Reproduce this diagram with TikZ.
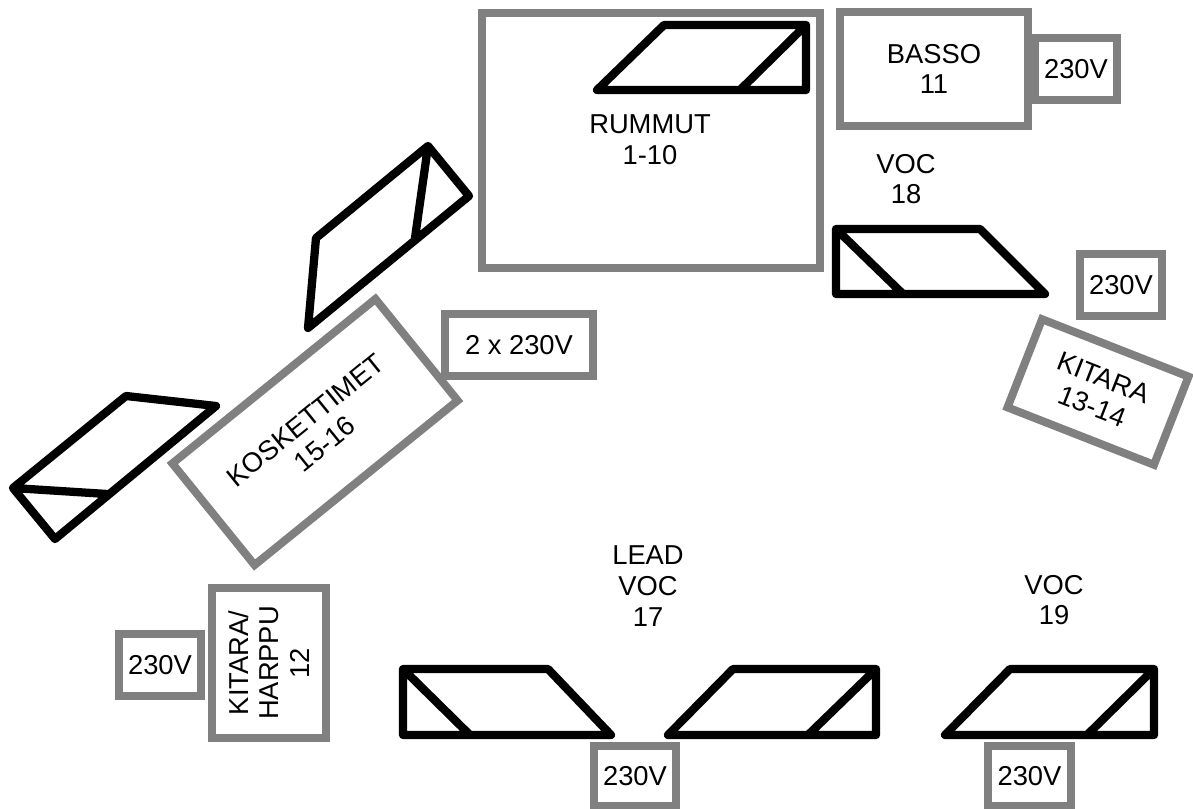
\documentclass[tikz,border=0pt]{standalone}
\usepackage{fontspec}
\setmainfont{Liberation Sans}
\tikzset{
  graybox/.style={draw=boxgray,line width=6pt,line join=miter,inner sep=0pt,align=center},
  wedge/.style={draw=black,line width=6.2pt,line join=round,line cap=round},
  label/.style={inner sep=0pt,align=center}
}
\definecolor{boxgray}{HTML}{808080}
\begin{document}
\begin{tikzpicture}[x=0.75pt,y=-0.75pt,font=\fontsize{20.5pt}{23pt}\selectfont]
		\useasboundingbox (0,0) rectangle (1193,809);
		\draw[graybox] (482,13) rectangle (820,268);
		\node[label] (rummut) at (650,140) {RUMMUT\\1-10};
		\node[graybox,minimum width=141pt,minimum height=85pt] (basso) at (934,69) {BASSO\\11};
		\node[graybox,minimum width=62pt,minimum height=46pt] (powerbasso) at (1076,69) {230V};
		\node[label] (vocb) at (906,179) {VOC\\18};
		\node[graybox,minimum width=61pt,minimum height=47pt] (powerkitara) at (1121,285) {230V};
		\node[graybox,rotate=-21.4,minimum width=118pt,minimum height=71pt] (kitara) at (1098,392) {KITARA\\13-14};
		\node[graybox,minimum width=111pt,minimum height=46pt] (powerkosk) at (519,345) {2 x 230V};
		\node[graybox,rotate=39,minimum width=196pt,minimum height=98pt] (kosk) at (315,432) {KOSKETTIMET\\15-16};
		\node[graybox,rotate=90,minimum width=112pt,minimum height=85.5pt] (harppu) at (269,663) {KITARA/\\HARPPU\\12};
		\node[graybox,minimum width=62pt,minimum height=47pt] (powerharppu) at (160,665) {230V};
		\node[graybox,minimum width=62pt,minimum height=45pt] (powerlead) at (635,776) {230V};
		\node[graybox,minimum width=62pt,minimum height=45pt] (powervoc) at (1029.5,776) {230V};
		\node[label] (lead) at (648,586) {LEAD\\VOC\\17};
		\node[label] (voca) at (1054,600) {VOC\\19};
		\draw[wedge] (597,90)--(664,25)--(806,25)--(806,90)--cycle (740,90)--(806,25);
		\draw[wedge] (836,229)--(980,229)--(1045,294)--(836,294)--cycle (836,229)--(903,294);
		\draw[wedge] (403,669)--(548,669)--(611,735)--(403,735)--cycle (403,669)--(470,735);
		\draw[wedge] (668,735)--(733,669)--(876,669)--(876,735)--cycle (808,735)--(876,669);
		\draw[wedge] (945,735)--(1010,669)--(1154,669)--(1154,735)--cycle (1087,735)--(1154,669);
		\draw[wedge] (308,328)--(316,238)--(428,146)--(469,196)--cycle (428,146)--(415,238);
		\draw[wedge] (13,488)--(126,396)--(216,406)--(55,539)--cycle (13,488)--(107,494);
\end{tikzpicture}
\end{document}
